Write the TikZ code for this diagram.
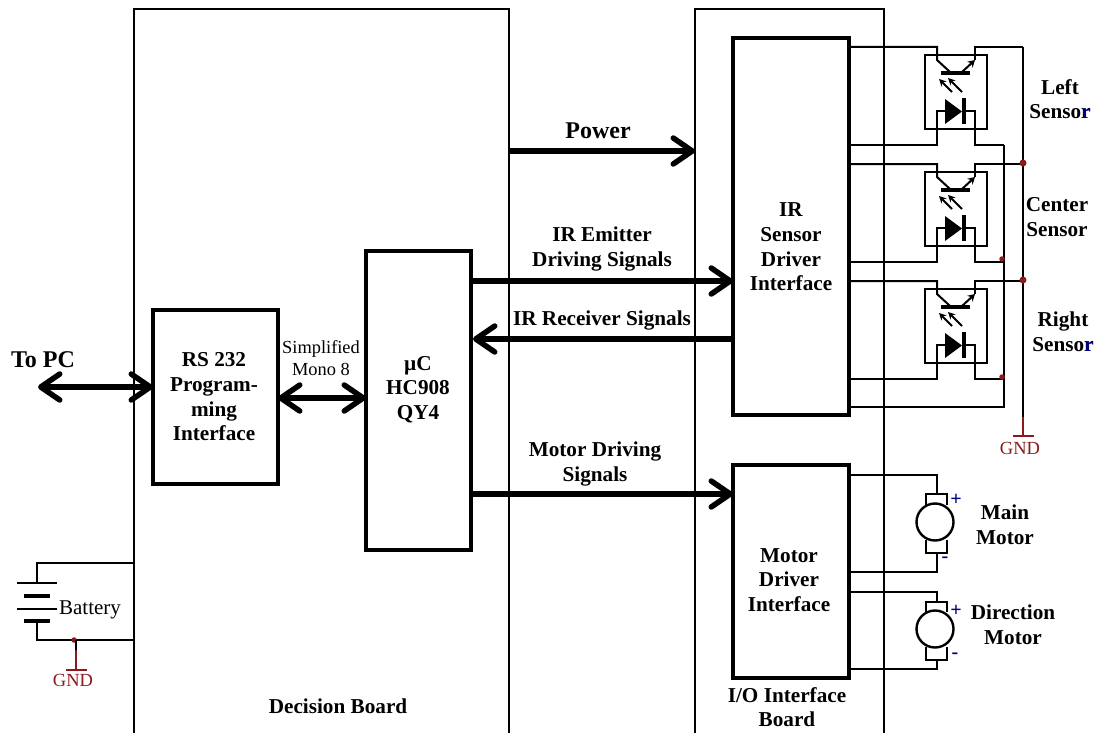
\documentclass[tikz,border=0pt]{standalone}
\usepackage{fontspec}
\setmainfont{Liberation Serif}
\usetikzlibrary{arrows.meta}
\definecolor{gndred}{HTML}{8B1A1A}
\definecolor{polblue}{HTML}{000080}
\tikzset{
 wire/.style={line width=2pt,black},
 board/.style={line width=2pt,black},
 block/.style={draw,line width=4pt,outer sep=0pt,inner sep=0pt},
 barb/.tip={Straight Barb[length=19pt,width=26pt,line width=5.5pt,round]},
 bus/.style={line width=5.5pt,-barb},
 bibus/.style={line width=5.5pt,barb-barb},
 lab/.style={font=\fontsize{21.2}{24.7}\selectfont\bfseries,align=center,inner sep=0pt},
 big lab/.style={font=\fontsize{24}{26}\selectfont\bfseries,align=center,inner sep=0pt},
 thin lab/.style={font=\fontsize{18.4}{22}\selectfont,align=center,inner sep=0pt},
 gnd lab/.style={font=\fontsize{18.5}{20}\selectfont,text=gndred,inner sep=0pt},
 pol/.style={font=\fontsize{20}{20}\selectfont\bfseries,text=polblue,inner sep=0pt},
 jdot/.style={circle,fill=gndred,inner sep=0pt,minimum size=7pt},
 sdot/.style={circle,fill=gndred,inner sep=0pt,minimum size=5.5pt},
}
\newcommand{\opto}[2]{%
 \begin{scope}[yshift=-#1pt]
  \draw[wire] (925,55) rectangle (987,129);
  \draw[wire] (849,47) -- (937,47) -- (937,60) -- (950,72);
  \draw[line width=4pt] (941,73) -- (970,73);
  \draw[wire,-{Stealth[length=7pt,width=8pt]}] (962,72) -- (975,60);
  \draw[wire] (975,60) -- (975,47) -- (#2,47);
  \draw[line width=1.8pt,-{Stealth[length=7pt,width=7pt]}] (962,92) -- (948,78);
  \draw[line width=1.8pt,-{Stealth[length=7pt,width=7pt]}] (952,92) -- (939,79);
  \fill (945,99) -- (962,111.5) -- (945,124) -- cycle;
  \draw[line width=4pt] (964,98) -- (964,124);
  \draw[wire] (945,111) -- (937,111) -- (937,145) -- (849,145);
  \draw[wire] (964,111) -- (975,111) -- (975,145) -- (1004,145);
 \end{scope}}
\newcommand{\motor}[6]{%
 \draw[wire] (849,#1) -- (937,#1) -- (937,#2);
 \draw[wire] (926,#3) -- (926,#2) -- (947,#2) -- (947,#3);
 \draw[line width=2.4pt] (935,#4) circle (18.5);
 \draw[wire] (926,#5) -- (926,#6) -- (947,#6) -- (947,#5);
}
\begin{document}
\begin{tikzpicture}[x=1pt,y=-1pt]
\useasboundingbox (0,0) rectangle (1094,733);
% boards
\draw[board] (134,733) -- (134,9) -- (509,9) -- (509,733);
\draw[board] (695,733) -- (695,9) -- (884,9) -- (884,733);
% blocks
\node[block,anchor=north west,minimum width=125pt,minimum height=174pt] (rs) at (153,310) {};
\node[block,anchor=north west,minimum width=105pt,minimum height=299pt] (uc) at (366,251) {};
\node[block,anchor=north west,minimum width=116pt,minimum height=377pt] (ir) at (733,38) {};
\node[block,anchor=north west,minimum width=116pt,minimum height=213pt] (md) at (733,465) {};
\node[lab] (rst) at (214,397) {RS 232\\Program-\\ming\\Interface};
\node[lab] (uct) at (418,389.5) {µC\\HC908\\QY4};
\node[lab] (irt) at (791,247) {IR\\Sensor\\Driver\\Interface};
\node[lab] (mdt) at (789,580) {Motor\\Driver\\Interface};
% bus arrows
\coordinate (pwrA) at (509,151); \coordinate (pwrB) at (695,151);
\coordinate (pc) at (38,387);
\draw[bus] (pwrA) -- (pwrB);
\draw[bus] (uc.east |- 0,281) -- (ir.west |- 0,281);
\draw[bus] (ir.west |- 0,339) -- ([xshift=2pt]uc.east |- 0,339);
\draw[bus] (uc.east |- 0,494) -- (md.west |- 0,494);
\draw[bibus] (pc) -- (rs.west |- pc);
\draw[bibus] (rs.east |- 0,398) -- (uc.west |- 0,398);
\node[big lab] (lpwr) at (598,131) {Power};
\node[lab] (lem) at (602,249) {IR Emitter\\Driving Signals};
\node[lab] (lrx) at (602,320) {IR Receiver Signals};
\node[lab] (lmot) at (595,464) {Motor Driving\\Signals};
\node[big lab] (lpc) at (43,360) {To PC};
\node[thin lab] (lsm) at (321,358) {Simplified\\Mono 8};
\node[lab] (ldb) at (338,706) {Decision Board};
\node[lab] (lio) at (787,707) {I/O Interface\\Board};
% optocouplers
\opto{0}{1023}
\opto{117}{1023}
\opto{234}{1023}
\draw[wire] (1023,47) -- (1023,417);
\draw[wire] (1004,145) -- (1004,407) -- (849,407);
\draw[wire,gndred] (1023,417) -- (1023,436);
\draw[wire,gndred] (1013,436) -- (1034,436);
\node[jdot] (j1) at (1023,163) {};
\node[jdot] (j2) at (1023,280) {};
\node[sdot] (j3) at (1002,259) {};
\node[sdot] (j4) at (1002,377) {};
\node[gnd lab] (g1) at (1020,448) {GND};
\node[lab] (ls1) at (1060,99) {Left\\Sensor\hspace{-0.44em}\textcolor{polblue}{r}};
\node[lab] (ls2) at (1057,217) {Center\\Sensor};
\node[lab] (ls3) at (1063,332) {Right\\Sensor\hspace{-0.44em}\textcolor{polblue}{r}};
% motors
\motor{475}{494}{505}{522}{540}{553}
\draw[wire] (937,553) -- (937,572) -- (849,572);
\motor{592}{602}{612}{629}{647}{660}
\draw[wire] (937,660) -- (937,669) -- (849,669);
\node[pol] (p1) at (956,500) {+};
\node[pol] (m1) at (945,560) {-};
\node[pol] (p2) at (956,611) {+};
\node[pol] (m2) at (955,656) {-};
\node[lab] (lm1) at (1005,525) {Main\\Motor};
\node[lab] (lm2) at (1013,625) {Direction\\Motor};
% battery
\draw[wire] (134,563) -- (37,563) -- (37,583);
\draw[wire] (17,583) -- (57,583);
\draw[line width=4pt] (24,596) -- (50,596);
\draw[wire] (17,609) -- (57,609);
\draw[line width=4pt] (24,621) -- (50,621);
\draw[wire] (37,621) -- (37,640) -- (134,640);
\node[sdot] (bd) at (74,640) {};
\draw[wire] (76,640) -- (76,650);
\draw[wire,gndred] (76,650) -- (76,669);
\draw[wire,gndred] (66,669.5) -- (87,669.5);
\node[gnd lab] (g2) at (73,680) {GND};
\node[thin lab,font=\fontsize{21}{22}\selectfont] (lb) at (90,610) {Battery};
\end{tikzpicture}
\end{document}
